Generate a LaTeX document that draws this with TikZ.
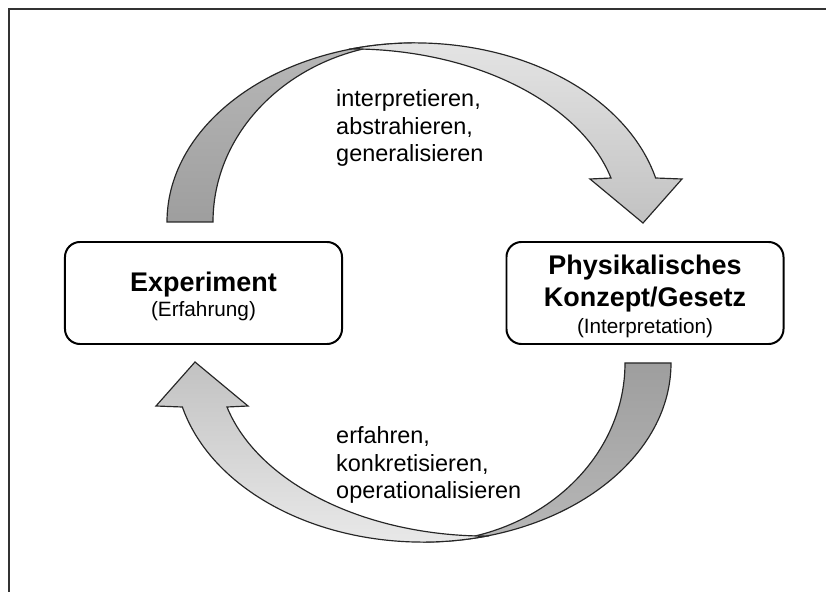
\documentclass[tikz,border=0pt]{standalone}
\usepackage{fontspec}
\setmainfont{Liberation Sans}

\begin{document}
\begin{tikzpicture}[x=0.03cm, y=-0.03cm,
    kasten/.style={draw, line width=1.7pt, rounded corners=0.45cm, minimum width=8.31cm, minimum height=3.06cm},
    titel/.style={font=\bfseries\fontsize{23}{27}\selectfont},
    zusatz/.style={font=\fontsize{17.7}{21}\selectfont},
    wort/.style={align=left, inner sep=0pt, font=\fontsize{20}{23.8}\selectfont},
    band/.style={draw=black!85, line width=1pt}]
        \useasboundingbox (0,0) rectangle (826,592);
        \draw [line width=1.7pt, black!80] (9,592) -- (9,9) -- (826,9);
        \foreach \w/\ha/\hb/\va/\vb in {0/28/38/10/24, 180/38/28/24/8} {
            \begin{scope}[rotate around={\w:(419,292.5)}]
                \draw [band, top color=black!\ha, bottom color=black!\hb] (167,222) arc[start angle=180, end angle=270, x radius=248, y radius=179] arc[start angle=270, end angle=180, x radius=202, y radius=179] -- cycle;
                \draw [band, top color=black!\va, bottom color=black!\vb] (351,49) arc[start angle=255, end angle=345.8, x radius=248, y radius=179] -- (682,179) -- (643,223) -- (590,179) -- (611,178) arc[start angle=345.3, end angle=270, x radius=269, y radius=173] -- cycle;
            \end{scope}
        }
        \node [kasten] (exp) at (203.5,293) {};
        \node [kasten] (kon) at (645,293) {};
        \node [titel, anchor=base] (exp-t) at (203.5,292) {Experiment};
        \node [zusatz, anchor=base] (exp-u) at (203.5,317) {(Erfahrung)};
        \node [titel, anchor=base] (kon-t1) at (645,275) {Physikalisches};
        \node [titel, anchor=base] (kon-t2) at (645,307) {Konzept/Gesetz};
        \node [zusatz, anchor=base] (kon-u) at (645,333) {(Interpretation)};
        \node [wort, anchor=north west] (oben) at (336,89) {interpretieren,\\abstrahieren,\\generalisieren};
        \node [wort, anchor=north west] (unten) at (336,426) {erfahren,\\konkretisieren,\\operationalisieren};
\end{tikzpicture}
\end{document}
